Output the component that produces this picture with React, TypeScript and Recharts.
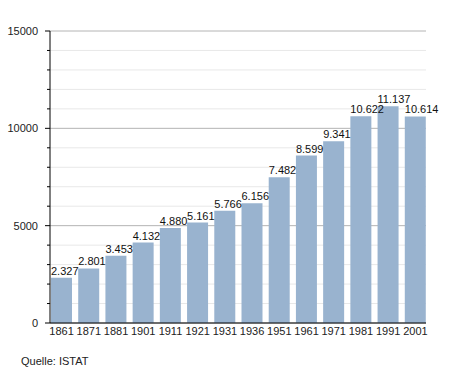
import React from "react";
import { BarChart, Bar, XAxis, YAxis, CartesianGrid, LabelList } from "recharts";

const YEARS = ["1861", "1871", "1881", "1901", "1911", "1921", "1931", "1936", "1951", "1961", "1971", "1981", "1991", "2001"];
const POPULATION = [2327, 2801, 3453, 4132, 4880, 5161, 5766, 6156, 7482, 8599, 9341, 10622, 11137, 10614];
const Y_TICKS = [0, 1000, 2000, 3000, 4000, 5000, 6000, 7000, 8000, 9000, 10000, 11000, 12000, 13000, 14000, 15000];
const MAJOR_TICKS = [0, 5000, 10000, 15000];

const data = YEARS.map((year, i) => ({ year, value: POPULATION[i] }));
const MINOR_TICKS = Y_TICKS.filter((t) => !MAJOR_TICKS.includes(t));

const FONT = "'Liberation Sans', Arial, sans-serif";
const BAR_COLOR = "#99b3cf";

const fmt = (v: number) => String(v).replace(/\B(?=(\d{3})+(?!\d))/g, ".");

function YTick(props: any) {
  const { x, y, payload } = props;
  const major = MAJOR_TICKS.includes(payload.value);
  return (
    <g>
      <line x1={major ? 45 : 47} x2={50} y1={y} y2={y} stroke="#000" strokeWidth={1} />
      {major && (
        <text x={38} y={y} dy={4} textAnchor="end" fontSize={11} fill="#222" fontFamily={FONT}>
          {payload.value}
        </text>
      )}
    </g>
  );
}

function ValueLabel(props: any) {
  const { x, y, value } = props;
  return (
    <text x={x} y={y - 3} fontSize={11} fill="#111" fontFamily={FONT}>
      {fmt(value)}
    </text>
  );
}

export default function App() {
  return (
    <div style={{ position: "absolute", left: 0, top: 0, width: 455, height: 373, background: "#fff" }}>
      <BarChart
        width={455}
        height={373}
        data={data}
        margin={{ top: 31, right: 29, bottom: 30, left: 0 }}
        barSize={21}
      >
        <CartesianGrid vertical={false} horizontalValues={MINOR_TICKS} stroke="#e8e8e8" />
        <CartesianGrid vertical={false} horizontalValues={MAJOR_TICKS} stroke="#b4b4b4" />
        <XAxis
          dataKey="year"
          height={20}
          padding={{ left: -2, right: -3 }}
          axisLine={{ stroke: "#000" }}
          tickLine={false}
          tickSize={2}
          tick={{ fontSize: 11, fill: "#222", fontFamily: FONT }}
          interval={0}
        />
        <YAxis
          width={50}
          domain={[0, 15000]}
          ticks={Y_TICKS}
          interval={0}
          axisLine={{ stroke: "#000" }}
          tickLine={false}
          tick={<YTick />}
        />
        <Bar dataKey="value" fill={BAR_COLOR} isAnimationActive={false}>
          <LabelList dataKey="value" content={<ValueLabel />} />
        </Bar>
      </BarChart>
      <div
        style={{
          position: "absolute",
          left: 21,
          top: 355,
          fontSize: 11,
          fontFamily: FONT,
          color: "#222",
        }}
      >
        Quelle: ISTAT
      </div>
    </div>
  );
}
